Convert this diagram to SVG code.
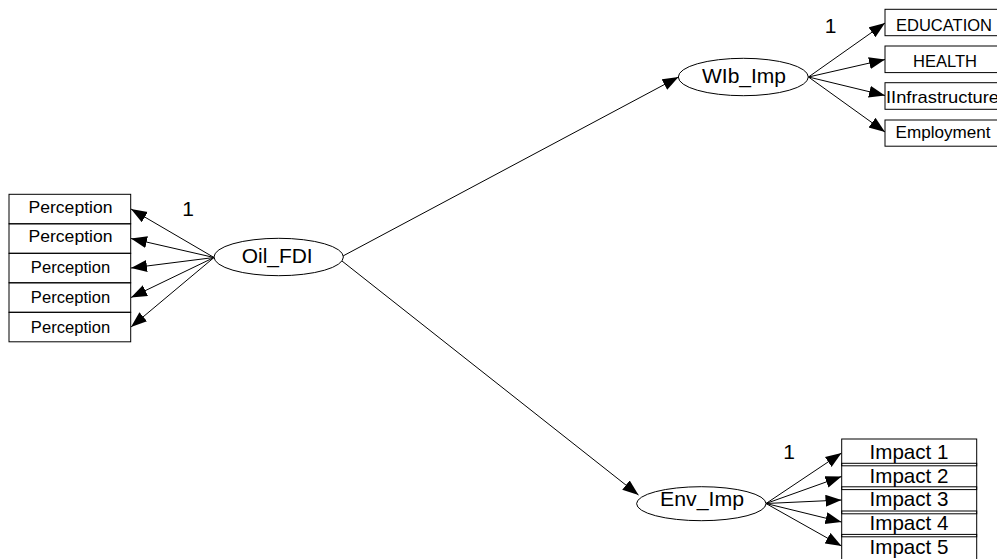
<svg xmlns="http://www.w3.org/2000/svg" width="997" height="559" viewBox="0 0 997 559">
<defs>
<marker id="ah" markerUnits="userSpaceOnUse" markerWidth="17" markerHeight="13" refX="16" refY="6" orient="auto">
<path d="M0,0 L16,6 L0,12 z" fill="#000"/>
</marker>
<style>
.box{fill:none;stroke:#000;stroke-width:1}
.ell{fill:#fff;stroke:#000;stroke-width:1}
.t{font-family:"Liberation Sans",Arial,sans-serif;fill:#000}
.c{stroke:#000;stroke-width:1;fill:none;marker-end:url(#ah)}
</style>
</defs>
<rect width="997" height="559" fill="#fff"/>
<g id="connectors">
<line class="c" x1="214" y1="257.5" x2="131" y2="209"/>
<line class="c" x1="214" y1="257.5" x2="131" y2="238.5"/>
<line class="c" x1="214" y1="257.5" x2="131" y2="268"/>
<line class="c" x1="214" y1="257.5" x2="131" y2="297.5"/>
<line class="c" x1="214" y1="257.5" x2="131" y2="327"/>
<line class="c" x1="342" y1="256.5" x2="678.5" y2="77"/>
<line class="c" x1="342" y1="261" x2="638.5" y2="495"/>
<line class="c" x1="808.5" y1="77" x2="885" y2="23"/>
<line class="c" x1="808.5" y1="77" x2="885" y2="59.5"/>
<line class="c" x1="808.5" y1="77" x2="885" y2="95.5"/>
<line class="c" x1="808.5" y1="77" x2="885" y2="132"/>
<line class="c" x1="766" y1="503.5" x2="841.5" y2="453"/>
<line class="c" x1="766" y1="503.5" x2="841.5" y2="476.5"/>
<line class="c" x1="766" y1="503.5" x2="841.5" y2="500"/>
<line class="c" x1="766" y1="503.5" x2="841.5" y2="522"/>
<line class="c" x1="766" y1="503.5" x2="841.5" y2="546"/>
</g>
<g id="label-1a"><text class="t" x="188" y="216" font-size="21" text-anchor="middle">1</text></g>
<g id="label-1b"><text class="t" x="830.5" y="33" font-size="21" text-anchor="middle">1</text></g>
<g id="label-1c"><text class="t" x="789" y="459" font-size="21" text-anchor="middle">1</text></g>
<g id="perception1"><rect class="box" x="9" y="194.3" width="121.7" height="29.5"/><text class="t" x="70.5" y="213.3" font-size="16.5" text-anchor="middle" textLength="84" lengthAdjust="spacingAndGlyphs">Perception</text></g>
<g id="perception2"><rect class="box" x="9" y="223.8" width="121.7" height="29.5"/><text class="t" x="70.5" y="241.7" font-size="16.5" text-anchor="middle" textLength="84" lengthAdjust="spacingAndGlyphs">Perception</text></g>
<g id="perception3"><rect class="box" x="9" y="253.3" width="121.7" height="29.5"/><text class="t" x="70.5" y="273.3" font-size="16.5" text-anchor="middle" textLength="79.3" lengthAdjust="spacingAndGlyphs">Perception</text></g>
<g id="perception4"><rect class="box" x="9" y="282.8" width="121.7" height="29.5"/><text class="t" x="70.5" y="303.3" font-size="16.5" text-anchor="middle" textLength="79.3" lengthAdjust="spacingAndGlyphs">Perception</text></g>
<g id="perception5"><rect class="box" x="9" y="312.3" width="121.7" height="29.5"/><text class="t" x="70.5" y="332.7" font-size="16.5" text-anchor="middle" textLength="79.3" lengthAdjust="spacingAndGlyphs">Perception</text></g>
<g id="oil_fdi"><ellipse class="ell" cx="278.7" cy="257" rx="64.7" ry="18.7"/><text class="t" x="277.2" y="263.3" font-size="21" text-anchor="middle" textLength="71" lengthAdjust="spacingAndGlyphs">Oil_FDI</text></g>
<g id="wlb_imp"><ellipse class="ell" cx="743.3" cy="77" rx="65" ry="18.7"/><text class="t" x="744" y="83.3" font-size="21" text-anchor="middle" textLength="84" lengthAdjust="spacingAndGlyphs">WIb_Imp</text></g>
<g id="env_imp"><ellipse class="ell" cx="701.3" cy="503.7" rx="64.7" ry="17"/><text class="t" x="702" y="506" font-size="21" text-anchor="middle" textLength="84" lengthAdjust="spacingAndGlyphs">Env_Imp</text></g>
<g id="education"><rect class="box" x="885" y="9.3" width="118" height="26.4"/><text class="t" x="944" y="30.7" font-size="17" text-anchor="middle" textLength="96" lengthAdjust="spacingAndGlyphs">EDUCATION</text></g>
<g id="health"><rect class="box" x="885" y="46" width="118" height="26.6"/><text class="t" x="945" y="66.7" font-size="17" text-anchor="middle" textLength="64" lengthAdjust="spacingAndGlyphs">HEALTH</text></g>
<g id="infrastructure"><rect class="box" x="885" y="82.7" width="118" height="26.6"/><text class="t" x="886" y="103.3" font-size="17" textLength="113" lengthAdjust="spacingAndGlyphs">IInfrastructure</text></g>
<g id="employment"><rect class="box" x="885" y="120" width="118" height="26.2"/><text class="t" x="943" y="138.3" font-size="17" text-anchor="middle" textLength="95" lengthAdjust="spacingAndGlyphs">Employment</text></g>
<g id="impact1"><rect class="box" x="841.7" y="439" width="135" height="26.8"/><text class="t" x="909" y="459.3" font-size="21" text-anchor="middle" textLength="79" lengthAdjust="spacingAndGlyphs">Impact 1</text></g>
<g id="impact2"><rect class="box" x="841.7" y="463.3" width="135" height="26.3"/><text class="t" x="909" y="483.3" font-size="21" text-anchor="middle" textLength="79" lengthAdjust="spacingAndGlyphs">Impact 2</text></g>
<g id="impact3"><rect class="box" x="841.7" y="486.8" width="135" height="27"/><text class="t" x="909" y="506" font-size="21" text-anchor="middle" textLength="79" lengthAdjust="spacingAndGlyphs">Impact 3</text></g>
<g id="impact4"><rect class="box" x="841.7" y="511" width="135" height="25.8"/><text class="t" x="909" y="530" font-size="21" text-anchor="middle" textLength="79" lengthAdjust="spacingAndGlyphs">Impact 4</text></g>
<g id="impact5"><rect class="box" x="841.7" y="534.4" width="135" height="27"/><text class="t" x="909" y="554" font-size="21" text-anchor="middle" textLength="79" lengthAdjust="spacingAndGlyphs">Impact 5</text></g>
</svg>
